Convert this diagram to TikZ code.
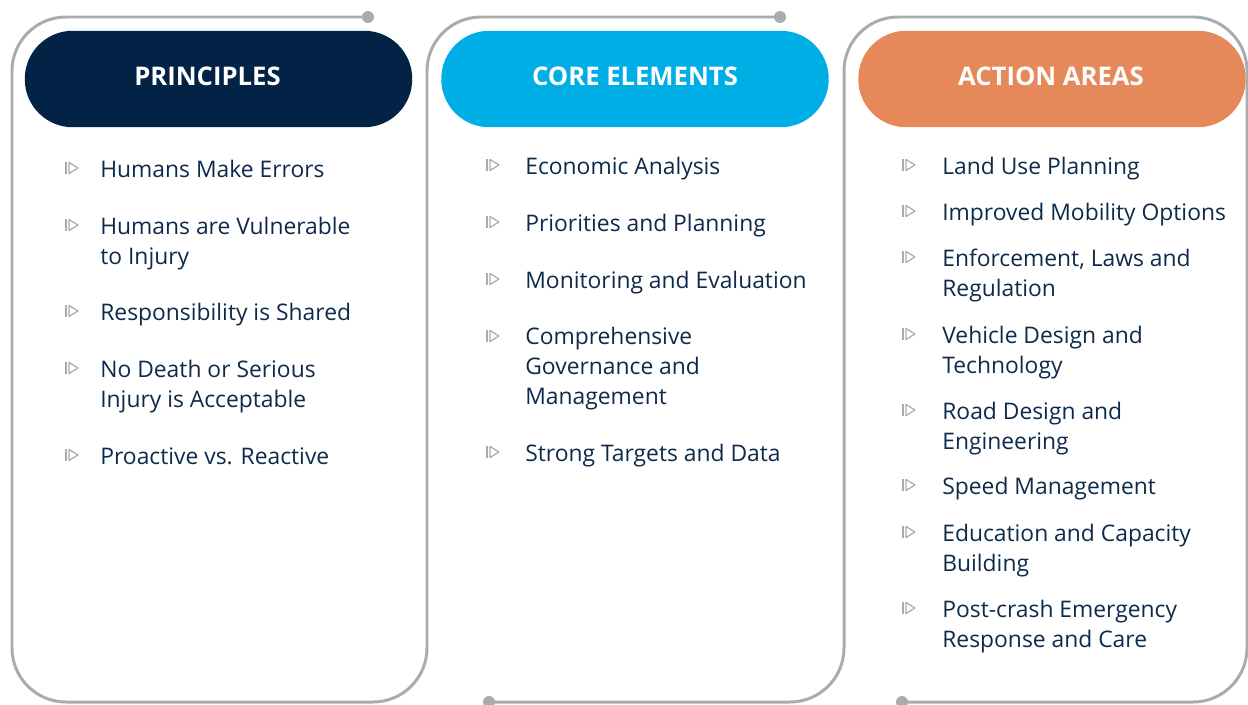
\documentclass[tikz,border=0pt]{standalone}
\usepackage{fontspec}
\setmainfont{Open Sans}
\usepackage{tikz}
\usetikzlibrary{calc}

\definecolor{navyhead}{HTML}{022346}
\definecolor{cyanhead}{HTML}{00AEE6}
\definecolor{orangehead}{HTML}{E6895A}
\definecolor{inktext}{HTML}{0E2A4B}
\definecolor{rimgray}{HTML}{A9ABAE}

\newcommand{\bullmark}[2]{%
  \draw[bullline] (#1,#2-6) -- (#1,#2+6);
  \draw[bullline] (#1+3,#2-5.5) -- (#1+12,#2) -- (#1+3,#2+5.5) -- cycle;}

\begin{document}
\begin{tikzpicture}[x=0.02cm,y=-0.02cm,
    rim/.style={rimgray, line width=1.7pt, rounded corners=1.08cm},
    bullline/.style={rimgray, line width=0.7pt, line join=round},
    pill/.style={rounded corners=0.96cm, minimum width=7.75cm, minimum height=1.93cm, inner sep=0pt},
    title/.style={text=white, font=\bfseries\fontsize{14.6}{17}\selectfont, inner sep=0pt},
    entry/.style={anchor=base west, align=left, text=inktext, inner sep=0pt, font=\fontsize{13}{16.8}\selectfont}]
    \useasboundingbox (0,0) rectangle (1248,704);

    \draw[rim] (368,17) -- (12,17) -- (12,702) -- (427,702) -- (427,17) -- (780,17);
    \draw[rim] (489,702) -- (844,702) -- (844,17) -- (1247,17) -- (1247,702) -- (902,702);
    \fill[rimgray] (368,17) circle[radius=0.12cm];
    \fill[rimgray] (780,17) circle[radius=0.12cm];
    \fill[rimgray] (489,702) circle[radius=0.12cm];
    \fill[rimgray] (902,702) circle[radius=0.12cm];

    \node[pill, fill=navyhead] (prinpill) at (218.5,79) {};
    \node[pill, fill=cyanhead] (corepill) at (635,79) {};
    \node[pill, fill=orangehead] (actpill) at (1052,79) {};
    \node[title] (printitle) at (207.5,76) {PRINCIPLES};
    \node[title] (coretitle) at (635,76) {CORE ELEMENTS};
    \node[title] (acttitle) at (1051,76) {ACTION AREAS};

    % multi-line entries sit on the baseline of their last line
    \node[entry] (prin1) at (100,177) {Humans Make Errors};
    \node[entry] (prin2) at (100,264) {Humans are Vulnerable\\to Injury};
    \node[entry] (prin3) at (100,320) {Responsibility is Shared};
    \node[entry] (prin4) at (100,407) {No Death or Serious\\Injury is Acceptable};
    \node[entry] (prin5) at (100,464) {Proactive vs. Reactive};
    \bullmark{66}{168}
    \bullmark{66}{225}
    \bullmark{66}{311}
    \bullmark{66}{368}
    \bullmark{66}{455}

    \node[entry] (core1) at (525,174) {Economic Analysis};
    \node[entry] (core2) at (525,231) {Priorities and Planning};
    \node[entry] (core3) at (525,288) {Monitoring and Evaluation};
    \node[entry] (core4) at (525,404) {Comprehensive\\Governance and\\Management};
    \node[entry] (core5) at (525,461) {Strong Targets and Data};
    \bullmark{487}{165}
    \bullmark{487}{222}
    \bullmark{487}{279}
    \bullmark{487}{336}
    \bullmark{487}{452}

    \node[entry] (act1) at (942,174) {Land Use Planning};
    \node[entry] (act2) at (942,220) {Improved Mobility Options};
    \node[entry] (act3) at (942,296) {Enforcement, Laws and\\Regulation};
    \node[entry] (act4) at (942,373) {Vehicle Design and\\Technology};
    \node[entry] (act5) at (942,449) {Road Design and\\Engineering};
    \node[entry] (act6) at (942,494) {Speed Management};
    \node[entry] (act7) at (942,571) {Education and Capacity\\Building};
    \node[entry] (act8) at (942,647) {Post-crash Emergency\\Response and Care};
    \bullmark{903}{165}
    \bullmark{903}{211}
    \bullmark{903}{257}
    \bullmark{903}{334}
    \bullmark{903}{410}
    \bullmark{903}{485}
    \bullmark{903}{532}
    \bullmark{903}{608}
\end{tikzpicture}
\end{document}
